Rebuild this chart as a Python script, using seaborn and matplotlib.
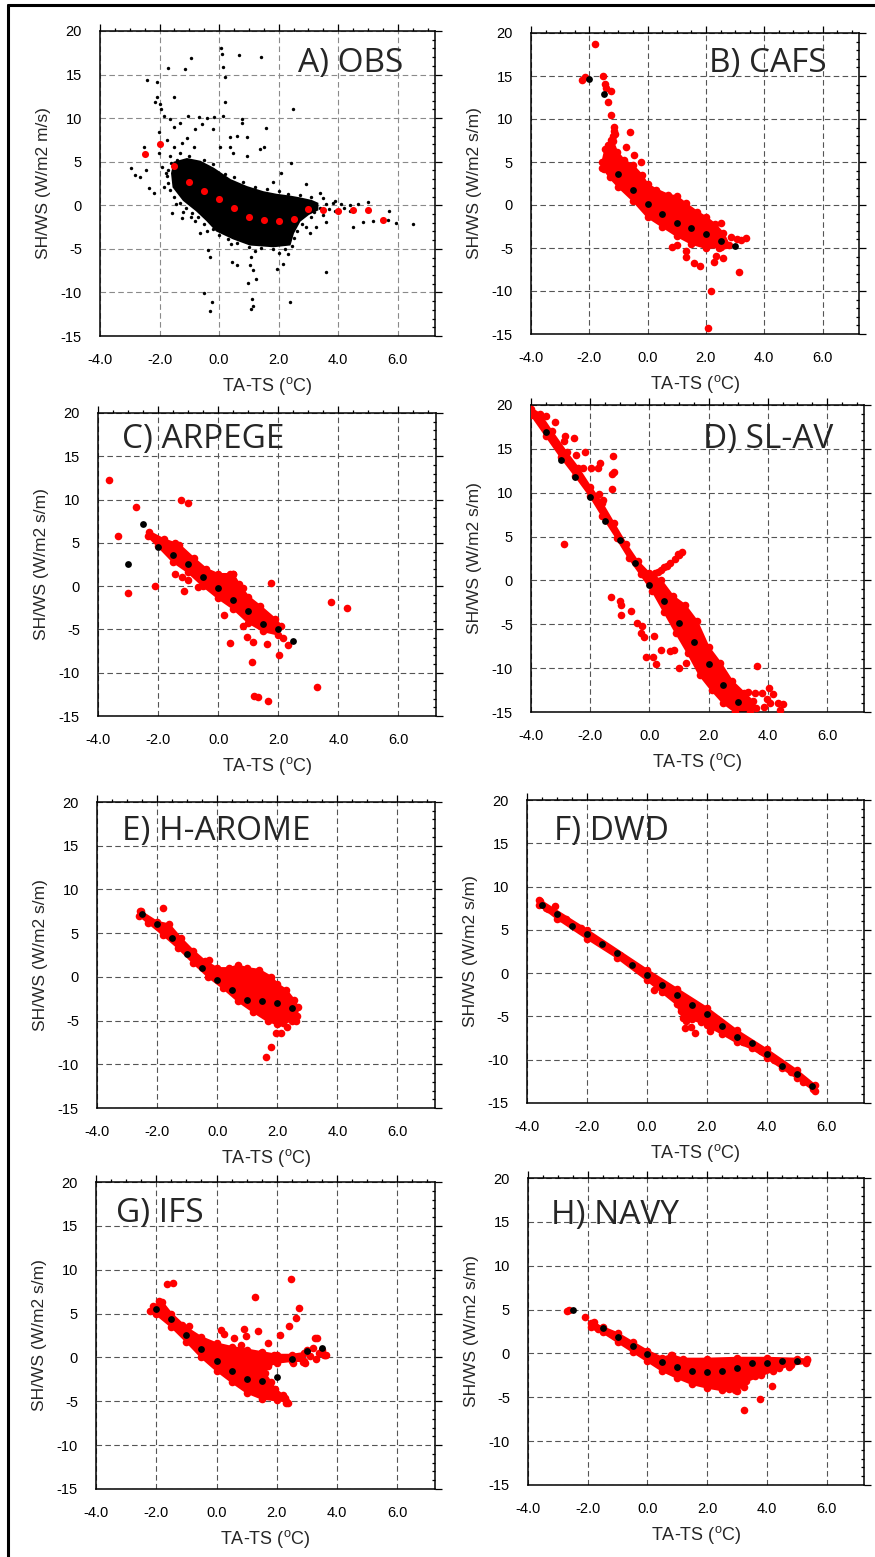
import seaborn as sns
import matplotlib.pyplot as plt
from matplotlib.ticker import MultipleLocator
from matplotlib.lines import Line2D

## axis ticks (same on every panel)
xtick_vals = [-4, -2, 0, 2, 4, 6]
xtick_labels = ['-4.0', '-2.0', '0.0', '2.0', '4.0', '6.0']
ytick_vals = [-15, -10, -5, 0, 5, 10, 15, 20]
ytick_labels = ['-15', '-10', '-5', '0', '5', '10', '15', '20']

## A) OBS  -- dense core outline, single points, red bin means
obs_core = [(-1.58, 3.67), (-1.5, 4.9), (-1.08, 5.3), (-0.64, 5.0), (-0.19, 4.2), (0.37, 2.9),
            (0.92, 2.1), (1.48, 1.5), (1.93, 1.2), (2.37, 1.0), (2.7, 0.8), (3.1, 0.5), (3.3, 0.2),
            (3.3, -0.5), (3.0, -1.0), (2.7, -1.8), (2.48, -3.2), (2.37, -4.5), (1.82, -4.7),
            (1.04, -4.5), (0.48, -3.8), (-0.08, -2.9), (-0.41, -1.7), (-0.75, -0.6), (-1.19, 0.6),
            (-1.53, 2.1)]
obs_pts = [(0.07, 18.1), (0.11, 17.4), (0.68, 17.25), (1.39, 17.0), (-0.96, 16.9), (-1.72, 15.7),
           (-1.13, 15.6), (0.12, 15.9), (0.21, 14.7), (-2.41, 14.4), (-2.08, 14.1), (-1.53, 12.4),
           (0.2, 11.9), (2.48, 11.1), (-2.14, 11.8), (-2.0, 11.6), (-1.95, 11.1), (-2.08, 12.4),
           (-1.86, 10.3), (-1.64, 9.9), (-1.06, 10.2), (-0.69, 10.1), (-0.41, 10.0), (-0.16, 10.1),
           (0.14, 10.2), (0.76, 9.9), (0.76, 9.4), (1.59, 8.9), (-2.03, 8.4), (-1.53, 9.0),
           (-1.3, 9.4), (-0.8, 8.8), (-0.58, 9.3), (-0.19, 8.8), (0.37, 7.85), (0.59, 7.9),
           (1.52, 6.7), (0.92, 5.7), (-1.75, 7.5), (-1.53, 6.7), (-1.25, 7.1), (-1.08, 7.7),
           (-0.86, 6.7), (0.03, 6.7), (0.37, 6.7), (0.48, 5.97), (-2.53, 6.7), (-2.46, 4.06),
           (-2.95, 4.25), (-2.81, 3.48), (-2.64, 3.29), (-2.36, 1.95), (-2.17, 1.38), (-1.86, 2.14),
           (-1.8, 3.67), (-1.91, 4.44), (-2.03, 5.97), (-1.64, 5.6), (-1.3, 5.97), (-1.58, -0.92),
           (-1.25, -1.49), (-0.95, -1.3), (-0.64, -3.21), (-0.36, -5.13), (-0.3, -5.9),
           (-0.52, -10.1), (-0.23, -11.1), (-0.3, -12.1), (0.42, -6.5), (0.61, -6.9), (1.04, -6.9),
           (1.06, -5.9), (1.15, -7.4), (0.98, -8.9), (1.23, -8.5), (1.11, -10.8), (1.15, -11.6),
           (1.06, -11.9), (1.96, -7.3), (2.15, -6.7), (2.37, -11.1), (3.58, -7.7), (1.82, 2.7),
           (2.09, 3.67), (2.42, 4.9), (2.91, 2.45), (3.38, 1.45), (3.82, 0.23), (4.38, 0.04),
           (4.66, 0.15), (4.99, 0.38), (4.49, -2.45), (4.83, -1.87), (5.16, -1.8), (5.66, -1.68),
           (5.72, -0.61), (5.94, -2.07), (6.5, -2.14), (2.93, -2.45), (3.04, -3.21), (3.26, -2.45),
           (3.6, -1.87), (1.37, 6.5), (0.92, 7.85),
           (-1.6, 4.8), (-1.4, 5.2), (-1.0, 5.6), (-0.5, 5.2), (-0.2, 4.7), (0.2, 3.6), (0.5, 3.2),
           (0.8, 2.7), (1.2, 2.1), (1.6, 1.9), (2.0, 1.6), (2.3, 1.3), (2.7, 1.2), (3.1, 0.9),
           (3.5, 0.8), (3.9, 0.5), (4.1, 0.1), (3.9, -0.6), (3.5, -1.1), (3.1, -1.4), (2.8, -2.2),
           (2.6, -3.0), (2.5, -3.8), (2.45, -4.7), (2.2, -5.0), (1.8, -5.0), (1.4, -4.9),
           (1.0, -4.8), (0.6, -4.3), (0.3, -3.9), (0.0, -3.4), (-0.2, -2.7), (-0.5, -2.2),
           (-0.7, -1.4), (-0.9, -0.9), (-1.1, -0.3), (-1.3, 0.3), (-1.5, 1.0), (-1.65, 1.8),
           (-1.7, 2.6), (-1.75, 3.4), (-1.7, 4.1), (-1.2, -0.8), (-0.8, -1.8), (0.4, -4.5),
           (1.2, -5.3), (2.0, -5.5), (2.3, -5.6), (-0.4, -3.0), (-1.45, 0.2), (3.6, 0.1),
           (3.4, -0.3), (3.7, -0.4), (4.2, -0.3), (4.4, -0.6), (3.2, -0.8)]
obs_mean_x = [-2.5, -2.0, -1.5, -1.0, -0.5, 0.0, 0.5, 1.0, 1.5, 2.0, 2.5, 3.0, 3.5, 4.0, 4.5, 5.0, 5.5]
obs_mean_y = [5.85, 7.0, 4.55, 2.7, 1.68, 0.73, -0.34, -1.34, -1.72, -1.76, -1.57, -0.46, -0.57,
              -0.61, -0.54, -0.5, -1.72]

## B) CAFS
cafs_core = [(-1.45, 6.5), (-1.35, 7.0), (-1.2, 7.5), (-1.05, 6.2), (-0.8, 5.2), (-0.5, 4.6),
             (-0.2, 3.5), (0.0, 2.4), (0.3, 1.8), (0.7, 1.2), (1.0, 1.0), (1.3, 0.2), (1.7, -0.8),
             (2.0, -1.4), (2.3, -2.2), (2.6, -3.3), (2.8, -4.7), (2.5, -4.9), (2.0, -5.0),
             (1.5, -4.5), (1.0, -3.6), (0.5, -2.5), (0.0, -1.4), (-0.5, 0.5), (-1.0, 2.1),
             (-1.3, 3.2), (-1.5, 4.2), (-1.55, 5.0)]
cafs_pts = [(-1.8, 18.7), (-2.24, 14.5), (-2.16, 14.9), (-1.52, 15.05), (-1.46, 14.1), (-1.44, 13.6),
            (-1.27, 13.3), (-1.37, 12.0), (-1.26, 10.5), (-1.16, 9.1), (-1.13, 8.3), (-0.62, 8.5),
            (-0.74, 6.8), (-0.46, 5.8), (-0.23, 5.0), (-1.57, 4.3), (-1.4, 5.6), (0.85, -4.9),
            (1.01, -4.6), (1.3, -5.4), (1.3, -6.0), (1.58, -6.8), (1.8, -7.1), (2.18, -10.0),
            (2.07, -14.3), (2.28, -6.6), (2.35, -5.9), (2.57, -6.2), (2.44, -5.0), (2.5, -2.1),
            (2.85, -3.7), (3.05, -4.0), (3.13, -7.8), (3.39, -3.8), (3.2, -4.1), (2.66, -4.6),
            (-1.2, 8.0), (-1.25, 7.6), (-1.15, 8.6)]
cafs_mean_x = [-2.0, -1.5, -1.0, -0.5, 0.0, 0.5, 1.0, 1.5, 2.0, 2.5, 3.0]
cafs_mean_y = [14.7, 12.9, 3.55, 1.74, 0.15, -1.04, -2.12, -2.63, -3.4, -4.13, -4.75]

## C) ARPEGE
arpege_core = [(-2.3, 6.3), (-1.8, 5.4), (-1.3, 4.8), (-0.8, 3.2), (-0.4, 2.0), (0.0, 1.4),
               (0.5, 1.4), (0.7, 0.2), (1.0, -1.2), (1.4, -2.3), (1.9, -3.8), (2.1, -4.6),
               (2.0, -5.6), (1.5, -5.2), (1.0, -4.2), (0.5, -2.6), (0.0, -1.4), (-0.5, 0.0),
               (-1.0, 1.6), (-1.5, 2.8), (-2.0, 4.6), (-2.35, 5.8)]
arpege_pts = [(-3.64, 12.23), (-2.73, 9.15), (-3.32, 5.81), (-3.01, -0.77), (-2.1, -0.04),
              (-1.23, 9.96), (-1.01, 9.62), (-1.14, -0.58), (-1.43, 5.0), (-1.43, 1.46),
              (-1.21, 1.08), (-0.99, 0.69), (-0.66, -0.15), (0.38, 1.38), (0.49, 1.38),
              (0.2, -3.31), (0.38, -6.6), (0.81, -4.6), (0.97, -5.9), (1.17, -6.5), (1.11, -8.8),
              (1.2, -12.65), (1.31, -12.8), (1.66, -13.3), (1.62, -6.7), (1.77, 0.31), (2.01, -8.0),
              (2.16, -5.96), (2.31, -6.8), (3.29, -11.6), (3.76, -1.8), (4.29, -2.58), (0.81, -0.27),
              (0.79, -1.2)]
arpege_mean_x = [-3.0, -2.5, -2.0, -1.5, -1.0, -0.5, 0.0, 0.5, 1.0, 1.5, 2.0, 2.5]
arpege_mean_y = [2.54, 7.19, 4.5, 3.58, 2.58, 1.04, -0.23, -1.62, -2.85, -4.42, -4.96, -6.38]

## D) SL-AV
slav_core = [(-4.0, 19.6), (-3.7, 19.0), (-3.3, 17.0), (-2.8, 14.6), (-2.4, 12.8), (-2.0, 10.7),
             (-1.6, 8.8), (-1.2, 6.5), (-0.8, 4.2), (-0.4, 2.2), (0.0, 0.8), (0.4, 0.0),
             (0.8, -1.8), (1.2, -2.8), (1.6, -4.6), (2.0, -7.6), (2.4, -9.4), (2.8, -11.5),
             (3.2, -12.8), (3.5, -13.8), (3.6, -14.5), (3.4, -15.0), (2.9, -15.0), (2.5, -14.0),
             (2.1, -12.5), (1.7, -10.8), (1.3, -8.3), (0.9, -6.0), (0.5, -3.6), (0.1, -1.2),
             (-0.3, 0.7), (-0.7, 2.6), (-1.1, 4.8), (-1.6, 7.4), (-2.0, 9.6), (-2.5, 11.9),
             (-3.0, 14.1), (-3.5, 16.5), (-4.0, 18.9)]
slav_pts = [(-3.5, 18.75), (-3.2, 18.1), (-2.86, 16.5), (-2.56, 16.2), (-2.89, 15.9), (-2.93, 14.2),
            (-2.48, 14.3), (-2.16, 14.6), (-2.24, 12.8), (-1.96, 12.8), (-1.74, 12.8), (-1.67, 13.4),
            (-1.23, 14.2), (-1.21, 12.4), (-1.28, 12.1), (-1.28, 10.4), (-1.69, 9.9), (-1.56, 9.2),
            (-2.9, 4.2), (-1.3, -1.9), (-1.0, -2.4), (-0.97, -2.8), (-0.95, -3.96), (-0.62, -3.5),
            (-0.41, -4.9), (-0.24, -5.2), (-0.27, -6.05), (-0.18, -6.4), (0.16, -6.3), (-0.1, -8.7),
            (0.12, -8.7), (0.23, -9.5), (0.39, -7.95), (0.69, -8.06), (0.83, -7.95), (1.22, -9.4),
            (1.01, -10.0), (3.63, -9.8), (3.58, -12.8), (3.81, -12.8), (4.03, -12.3), (4.16, -13.0),
            (3.87, -14.4), (4.09, -14.0), (4.36, -14.0), (4.53, -14.1), (4.42, -14.8), (3.98, -13.5),
            (3.32, -12.7), (0.1, 0.5), (0.3, 1.0), (0.5, 1.5), (0.7, 2.0), (0.85, 2.5), (1.0, 2.9),
            (1.1, 3.2), (0.6, 1.7), (0.4, 1.2), (0.2, 0.8), (0.95, 3.0)]
slav_mean_x = [-3.5, -3.0, -2.5, -2.0, -1.5, -1.0, -0.5, 0.0, 0.5, 1.0, 1.5, 2.0, 2.5, 3.0]
slav_mean_y = [16.9, 13.77, 11.75, 9.47, 6.77, 4.6, 1.94, -0.57, -2.36, -4.83, -7.04, -9.55,
               -11.87, -13.88]

## E) H-AROME
harome_core = [(-2.55, 7.5), (-2.0, 6.3), (-1.6, 6.0), (-1.2, 4.4), (-0.8, 3.0), (-0.4, 1.8),
               (0.0, 1.0), (0.4, 1.0), (0.7, 1.3), (1.0, 1.0), (1.4, 0.8), (1.8, 0.0), (2.0, -0.8),
               (2.3, -1.5), (2.55, -2.6), (2.7, -3.5), (2.65, -4.5), (2.5, -5.0), (2.2, -5.3),
               (2.0, -5.4), (1.7, -5.1), (1.2, -4.0), (0.7, -2.8), (0.2, -1.3), (-0.3, 0.0),
               (-0.8, 1.6), (-1.3, 3.3), (-1.8, 4.8), (-2.3, 6.2), (-2.6, 7.0)]
harome_pts = [(-2.56, 7.5), (-1.8, 7.9), (-2.31, 6.5), (-0.28, 1.9), (1.19, 0.57), (1.33, 0.61),
              (1.61, -0.15), (1.78, -0.46), (2.02, -5.3), (2.11, -6.4), (1.97, -6.4), (2.31, -5.7),
              (2.64, -5.1), (1.78, -7.97), (1.63, -9.19)]
harome_mean_x = [-2.5, -2.0, -1.5, -1.0, -0.5, 0.0, 0.5, 1.0, 1.5, 2.0, 2.5]
harome_mean_y = [7.17, 6.02, 4.5, 2.67, 1.07, -0.34, -1.56, -2.59, -2.71, -2.97, -3.55]

## F) DWD
dwd_core = [(-3.6, 8.5), (-2.0, 5.0), (0.0, 0.4), (1.0, -1.8), (2.0, -4.0), (3.0, -6.6), (4.0, -8.8),
            (5.0, -11.2), (5.6, -12.9), (5.6, -13.6), (5.0, -12.1), (4.0, -9.8), (3.5, -8.7),
            (3.0, -8.0), (2.5, -7.0), (2.0, -6.0), (1.5, -5.3), (1.2, -5.2), (1.0, -3.6),
            (0.5, -2.2), (0.0, -0.8), (-1.0, 1.8), (-2.0, 4.0), (-3.0, 6.3), (-3.6, 7.9)]
dwd_pts = [(-3.08, 7.77), (-3.35, 7.5), (-2.91, 6.34), (0.24, -1.95), (1.27, -6.3), (1.47, -6.2),
           (1.6, -6.96), (2.11, -6.69), (1.43, -5.2), (5.24, -12.5), (4.8, -11.4), (4.26, -10.0),
           (-3.55, 8.3), (-3.3, 7.4), (-2.7, 6.3), (-2.2, 5.2), (-1.6, 3.6), (-0.9, 2.1), (0.6, -1.5),
           (1.15, -4.4), (1.3, -5.5), (1.8, -5.7), (2.3, -6.2), (3.2, -7.9), (3.8, -9.0),
           (4.5, -10.9), (5.2, -12.6), (5.55, -13.4)]
dwd_mean_x = [-3.5, -3.0, -2.5, -2.0, -1.5, -1.0, -0.5, 0.0, 0.5, 1.0, 1.5, 2.0, 2.5, 3.0, 3.5,
              4.0, 4.5, 5.0, 5.5]
dwd_mean_y = [7.88, 6.84, 5.49, 4.49, 3.37, 2.29, 0.98, -0.17, -1.37, -2.49, -3.64, -4.76, -6.11,
              -7.34, -8.11, -9.38, -10.69, -11.7, -13.0]

## G) IFS
ifs_core = [(-2.2, 5.3), (-2.1, 5.9), (-1.8, 6.3), (-1.5, 5.0), (-1.0, 3.4), (-0.5, 2.3), (0.0, 1.6),
            (0.5, 1.2), (1.0, 0.9), (1.5, 0.6), (2.0, 0.3), (2.5, 0.3), (2.9, 0.5), (2.9, -0.4),
            (2.5, -0.4), (2.0, -0.6), (1.7, -1.0), (1.6, -1.8), (1.8, -2.8), (1.95, -3.6),
            (2.2, -4.3), (2.3, -5.0), (2.0, -4.9), (1.5, -4.7), (1.0, -4.0), (0.5, -2.8),
            (0.0, -1.5), (-0.5, 0.0), (-1.0, 1.8), (-1.5, 3.5), (-2.0, 4.9)]
ifs_pts = [(-1.66, 8.39), (-1.43, 8.5), (1.26, 6.9), (2.48, 8.96), (2.73, 5.66), (2.64, 4.44),
           (2.42, 3.6), (2.12, 2.6), (1.39, 3.0), (0.92, 3.2), (0.98, 2.47), (0.14, 3.1), (0.26, 2.7),
           (-0.91, 3.57), (3.26, 2.16), (3.34, 2.16), (3.57, 0.27), (3.64, 0.3), (2.26, -4.67),
           (2.37, -5.24), (2.31, -5.16), (1.98, -4.48), (2.53, -0.68), (1.92, 0.27), (0.59, 2.24),
           (-1.91, 6.45), (-2.08, 5.39), (-1.13, 3.68), (1.7, 1.6), (1.48, 0.46), (2.87, -0.49),
           (0.81, 1.4), (3.0, 0.9), (3.2, 1.1), (3.4, 0.5), (3.6, 0.3), (3.3, -0.2), (3.1, 0.2),
           (2.95, -0.6), (3.5, 0.8)]
ifs_mean_x = [-2.0, -1.5, -1.0, -0.5, 0.0, 0.5, 1.0, 1.5, 2.0, 2.5, 3.0, 3.5]
ifs_mean_y = [5.47, 4.37, 2.51, 0.95, -0.38, -1.56, -2.51, -2.66, -2.28, -0.19, 0.72, 1.03]

## H) NAVY
navy_core = [(-1.9, 3.5), (-1.5, 3.0), (-1.0, 2.3), (-0.5, 1.3), (0.0, 0.3), (0.5, -0.5), (0.8, -0.2),
             (1.2, -0.6), (2.0, -0.6), (3.0, -0.5), (4.0, -0.5), (5.0, -0.6), (5.35, -0.7),
             (5.3, -1.1), (4.8, -1.3), (4.2, -2.0), (3.8, -2.5), (3.3, -3.2), (3.0, -4.3),
             (2.5, -4.2), (2.0, -3.9), (1.5, -3.5), (1.0, -2.8), (0.5, -2.0), (0.0, -0.9),
             (-0.5, 0.2), (-1.0, 1.3), (-1.5, 2.4), (-1.9, 3.0)]
navy_pts = [(-2.64, 4.91), (-2.69, 4.84), (-2.1, 4.11), (-1.8, 3.54), (-1.71, 3.0), (-1.66, 2.82),
            (3.24, -6.47), (3.76, -5.14), (4.16, -3.66), (3.22, -3.81), (2.94, -4.19), (2.72, -4.08),
            (4.74, -1.6), (5.34, -0.66), (0.82, -0.13), (4.4, -1.7), (3.6, -2.6)]
navy_mean_x = [-2.5, -1.5, -1.0, -0.5, 0.0, 0.5, 1.0, 1.5, 2.0, 2.5, 3.0, 3.5, 4.0, 4.5, 5.0]
navy_mean_y = [4.91, 2.94, 1.88, 0.85, -0.06, -0.93, -1.57, -1.95, -2.14, -1.99, -1.65, -1.12,
               -1.04, -0.82, -0.89]


sns.set_style('white')
plt.rcParams['font.family'] = ['Liberation Sans', 'DejaVu Sans']
plt.rcParams['mathtext.fontset'] = 'custom'
plt.rcParams['mathtext.rm'] = 'Liberation Sans'
plt.rcParams['axes.unicode_minus'] = False

W, H = 875, 1557
fig = plt.figure(figsize=(W / 100, H / 100), dpi=100)

## (title, core, points, mean x, mean y, cloud colour, mean colour, ylabel, box px, title pos)
panels = [
    ('A) OBS', obs_core, obs_pts, obs_mean_x, obs_mean_y, 'black', 'red',
     'SH/WS (W/m2 m/s)', (100, 435, 31, 336), (2.65, 15.3)),
    ('B) CAFS', cafs_core, cafs_pts, cafs_mean_x, cafs_mean_y, 'red', 'black',
     'SH/WS (W/m2 s/m)', (531, 859, 33, 334), (2.1, 15.45)),
    ('C) ARPEGE', arpege_core, arpege_pts, arpege_mean_x, arpege_mean_y, 'red', 'black',
     'SH/WS (W/m2 s/m)', (98, 436, 413, 716), (-3.21, 16.0)),
    ('D) SL-AV', slav_core, slav_pts, slav_mean_x, slav_mean_y, 'red', 'black',
     'SH/WS (W/m2 s/m)', (531, 864, 405, 712), (1.82, 15.06)),
    ('E) H-AROME', harome_core, harome_pts, harome_mean_x, harome_mean_y, 'red', 'black',
     'SH/WS (W/m2 s/m)', (97, 435, 802, 1108), (-3.17, 15.67)),
    ('F) DWD', dwd_core, dwd_pts, dwd_mean_x, dwd_mean_y, 'red', 'black',
     'SH/WS (W/m2 s/m)', (527, 864, 800, 1103), (-3.11, 15.4)),
    ('G) IFS', ifs_core, ifs_pts, ifs_mean_x, ifs_mean_y, 'red', 'black',
     'SH/WS (W/m2 s/m)', (96, 435, 1182, 1489), (-3.33, 15.45)),
    ('H) NAVY', navy_core, navy_pts, navy_mean_x, navy_mean_y, 'red', 'black',
     'SH/WS (W/m2 s/m)', (528, 864, 1178, 1485), (-3.22, 14.77)),
]

for title, core, pts, mx, my, ccol, mcol, ylab, box, tpos in panels:
    l, r, t, b = box
    ax = fig.add_axes([l / W, 1 - b / H, (r - l) / W, (b - t) / H])
    ax.set_xlim(-4, 7.25)
    ax.set_ylim(-15, 20)
    ax.set_axisbelow(True)

    ## cloud: solid core (with dots on its outline so the edge looks grainy) + single points
    hx = [p[0] for p in core]
    hy = [p[1] for p in core]
    px = [p[0] for p in pts]
    py = [p[1] for p in pts]
    if ccol == 'black':
        ax.fill(hx, hy, color='black', lw=1.5, zorder=2)
        sns.scatterplot(x=px, y=py, ax=ax, color='black', s=6, linewidth=0, zorder=3, legend=False)
        sns.scatterplot(x=mx, y=my, ax=ax, color='red', s=26, linewidth=0, zorder=4, legend=False)
    else:
        ax.fill(hx, hy, color='red', lw=1.5, zorder=2)
        sns.scatterplot(x=hx, y=hy, ax=ax, color='red', s=30, linewidth=0, zorder=3, legend=False)
        sns.scatterplot(x=px, y=py, ax=ax, color='red', s=30, linewidth=0, zorder=3, legend=False)
        sns.scatterplot(x=mx, y=my, ax=ax, color='black', s=24, linewidth=0, zorder=4, legend=False)

    ax.set_xticks(xtick_vals, xtick_labels)
    ax.set_yticks(ytick_vals, ytick_labels)
    ax.xaxis.set_minor_locator(MultipleLocator(0.5))
    ax.yaxis.set_minor_locator(MultipleLocator(1))
    ax.tick_params(which='both', top=True, right=True, direction='out', width=0.9,
                   labelsize=10.5, colors='black')
    ax.tick_params(which='major', length=5)
    ax.tick_params(which='minor', length=2.2)
    ax.tick_params(axis='x', which='major', pad=7)
    ax.tick_params(axis='y', which='major', pad=8)
    ax.tick_params(axis='y', which='minor', direction='in')
    for sp in ax.spines.values():
        sp.set_color('black')
        sp.set_linewidth(1.1)
    gcol = '#8a8a8a' if ccol == 'black' else '#555555'
    ax.grid(which='major', color=gcol, lw=0.8, ls=(0, (5, 3)))

    ax.set_xlabel(r'TA-TS ($^{\rm o}$C)', fontsize=13, labelpad=6)
    ax.set_ylabel(ylab, fontsize=12.5, labelpad=7)
    ax.text(tpos[0], tpos[1], title, fontsize=24, family='Open Sans', ha='left', va='baseline',
            zorder=5)

## outer frame on the left and top
fig.add_artist(Line2D([8 / W, 8 / W], [0, 1 - 5 / H], color='black', lw=2.2,
                      transform=fig.transFigure))
fig.add_artist(Line2D([8 / W, 1], [1 - 5 / H, 1 - 5 / H], color='black', lw=2.2,
                      transform=fig.transFigure))

fig.savefig('out.png', dpi=100)
